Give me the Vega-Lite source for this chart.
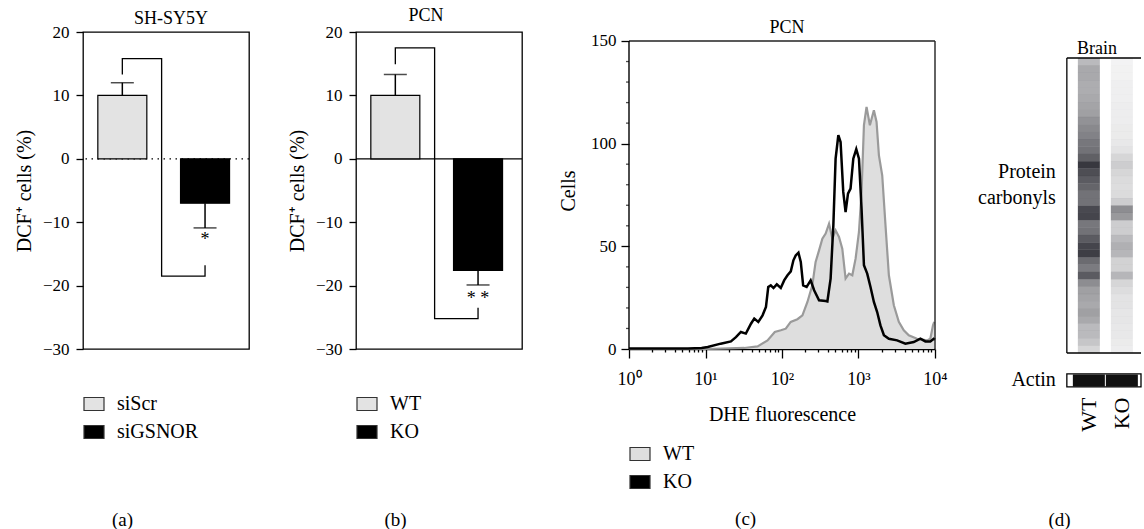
{
  "$schema": "https://vega.github.io/schema/vega-lite/v6.json",
  "padding": {"left": 13, "top": 6, "right": 0, "bottom": 0},
  "spacing": 107,
  "bounds": "flush",
  "config": {
    "font": "Liberation Serif",
    "view": {"stroke": "black", "strokeWidth": 1.3},
    "axis": {"domainColor": "black", "tickColor": "black", "labelColor": "black", "titleColor": "black", "labelFontSize": 17, "titleFontSize": 20, "titleFontWeight": "normal", "grid": false, "labelFont": "Liberation Serif", "titleFont": "Liberation Serif", "tickWidth": 1.3, "domainWidth": 1.3, "labelOverlap": false, "labelFlush": false},
    "title": {"fontSize": 18, "fontWeight": "normal", "color": "black", "font": "Liberation Serif", "baseline": "alphabetic"},
    "text": {"font": "Liberation Serif", "color": "black"},
    "legend": {"labelFontSize": 20, "labelFont": "Liberation Serif", "labelColor": "black", "symbolType": "M-1,-0.65H1V0.65H-1Z", "symbolSize": 400, "symbolStrokeColor": "#333", "symbolStrokeWidth": 1.2, "rowPadding": 7, "labelOffset": 12, "orient": "none", "symbolOpacity": 1}
  },
  "resolve": {"scale": {"x": "independent", "y": "independent", "fill": "independent", "opacity": "independent"}, "legend": {"fill": "independent"}},
  "hconcat": [
    {
      "width": 166, "height": 317,
      "title": {"text": "SH-SY5Y", "offset": -5, "dx": 5},
      "layer": [
        {"data": {"values": [{}]}, "mark": {"type": "rule", "color": "black", "strokeDash": [1.5, 4.5], "strokeWidth": 1.3}, "encoding": {"y": {"datum": 0, "type": "quantitative", "scale": {"domain": [-30, 20], "nice": false}}}},
        {
          "data": {"values": [{"g": 1, "grp": "siScr", "v": 10, "e": 12}, {"g": 2, "grp": "siGSNOR", "v": -7, "e": -10.9}]},
          "layer": [
            {"mark": {"type": "bar", "orient": "vertical", "width": 49, "stroke": "black", "strokeWidth": 1.2},
             "encoding": {
               "x": {"field": "g", "type": "quantitative", "scale": {"domain": [0.585, 2.471], "nice": false, "zero": false}, "axis": {"labels": false, "ticks": false, "domain": false, "title": "(a)", "titleX": 39, "titleY": 170, "titleBaseline": "middle", "titleAlign": "center", "titleFontSize": 19}},
               "y": {"field": "v", "type": "quantitative", "scale": {"domain": [-30, 20], "nice": false}, "axis": {"values": [-30, -20, -10, 0, 10, 20], "tickSize": 7, "labelPadding": 7, "title": "DCF⁺ cells (%)", "titlePadding": 8, "domain": false}},
               "fill": {"field": "grp", "type": "nominal", "scale": {"domain": ["siScr", "siGSNOR"], "range": ["#e3e3e3", "#000000"]}, "legend": {"title": null, "legendX": 0, "legendY": 361}}
             }},
            {"mark": {"type": "rule", "color": "black", "strokeWidth": 1.5}, "encoding": {"x": {"field": "g", "type": "quantitative"}, "y": {"field": "v", "type": "quantitative"}, "y2": {"field": "e"}}},
            {"mark": {"type": "tick", "orient": "horizontal", "color": "black", "size": 23, "thickness": 1.5}, "encoding": {"x": {"field": "g", "type": "quantitative"}, "y": {"field": "e", "type": "quantitative"}}}
          ]
        },
        {"data": {"values": [{"o": 1, "x": 1, "y": 13.3}, {"o": 2, "x": 1, "y": 15.8}, {"o": 3, "x": 1.475, "y": 15.8}, {"o": 4, "x": 1.475, "y": -18.5}, {"o": 5, "x": 2, "y": -18.5}, {"o": 6, "x": 2, "y": -16.8}]},
         "mark": {"type": "line", "color": "black", "strokeWidth": 1.3},
         "encoding": {"x": {"field": "x", "type": "quantitative"}, "y": {"field": "y", "type": "quantitative"}, "order": {"field": "o", "type": "quantitative"}}},
        {"data": {"values": [{"x": 2, "y": -11.4, "t": "*"}]},
         "mark": {"type": "text", "baseline": "top", "fontSize": 18},
         "encoding": {"x": {"field": "x", "type": "quantitative"}, "y": {"field": "y", "type": "quantitative"}, "text": {"field": "t"}}}
      ]
    },
    {
      "width": 166, "height": 317,
      "title": {"text": "PCN", "offset": -2, "dx": -13},
      "layer": [
        {"data": {"values": [{}]}, "mark": {"type": "rule", "color": "black", "strokeWidth": 1.3}, "encoding": {"y": {"datum": 0, "type": "quantitative", "scale": {"domain": [-30, 20], "nice": false}}}},
        {
          "data": {"values": [{"g": 1, "grp": "WT", "v": 10, "e": 13.3}, {"g": 2, "grp": "KO", "v": -17.6, "e": -19.9}]},
          "layer": [
            {"mark": {"type": "bar", "orient": "vertical", "width": 49, "stroke": "black", "strokeWidth": 1.2},
             "encoding": {
               "x": {"field": "g", "type": "quantitative", "scale": {"domain": [0.585, 2.471], "nice": false, "zero": false}, "axis": {"labels": false, "ticks": false, "domain": false, "title": "(b)", "titleX": 39, "titleY": 170, "titleBaseline": "middle", "titleAlign": "center", "titleFontSize": 19}},
               "y": {"field": "v", "type": "quantitative", "scale": {"domain": [-30, 20], "nice": false}, "axis": {"values": [-30, -20, -10, 0, 10, 20], "tickSize": 7, "labelPadding": 7, "title": "DCF⁺ cells (%)", "titlePadding": 8, "domain": false}},
               "fill": {"field": "grp", "type": "nominal", "scale": {"domain": ["WT", "KO"], "range": ["#e3e3e3", "#000000"]}, "legend": {"title": null, "legendX": 0, "legendY": 361}}
             }},
            {"mark": {"type": "rule", "color": "black", "strokeWidth": 1.5}, "encoding": {"x": {"field": "g", "type": "quantitative"}, "y": {"field": "v", "type": "quantitative"}, "y2": {"field": "e"}}},
            {"mark": {"type": "tick", "orient": "horizontal", "color": "black", "size": 23, "thickness": 1.5}, "encoding": {"x": {"field": "g", "type": "quantitative"}, "y": {"field": "e", "type": "quantitative"}}}
          ]
        },
        {"data": {"values": [{"o": 1, "x": 1, "y": 14.9}, {"o": 2, "x": 1, "y": 17.5}, {"o": 3, "x": 1.475, "y": 17.5}, {"o": 4, "x": 1.475, "y": -25.2}, {"o": 5, "x": 2, "y": -25.2}, {"o": 6, "x": 2, "y": -23.5}]},
         "mark": {"type": "line", "color": "black", "strokeWidth": 1.3},
         "encoding": {"x": {"field": "x", "type": "quantitative"}, "y": {"field": "y", "type": "quantitative"}, "order": {"field": "o", "type": "quantitative"}}},
        {"data": {"values": [{"x": 2, "y": -20.7, "t": "* *"}]},
         "mark": {"type": "text", "baseline": "top", "fontSize": 18},
         "encoding": {"x": {"field": "x", "type": "quantitative"}, "y": {"field": "y", "type": "quantitative"}, "text": {"field": "t"}}}
      ]
    },
    {
      "width": 306, "height": 317,
      "view": {"stroke": null},
      "title": {"text": "PCN", "offset": -5, "dx": 5},
      "layer": [
        {
          "data": {"values": [
            {"s":"KO","f":1,"c":0.3},{"s":"KO","f":3.16,"c":0.3},{"s":"KO","f":5.9,"c":0.2},{"s":"KO","f":8.9,"c":0.5},{"s":"KO","f":10.7,"c":1},{"s":"KO","f":15.8,"c":2.6},{"s":"KO","f":21.5,"c":3.7},{"s":"KO","f":25,"c":5.8},{"s":"KO","f":29,"c":8.3},{"s":"KO","f":33.7,"c":7.5},{"s":"KO","f":39.3,"c":12.3},{"s":"KO","f":43.4,"c":14.8},{"s":"KO","f":49,"c":13.2},{"s":"KO","f":55.7,"c":16.4},{"s":"KO","f":61.7,"c":20.5},{"s":"KO","f":66.1,"c":30.2},{"s":"KO","f":71.4,"c":31},{"s":"KO","f":77.4,"c":29.7},{"s":"KO","f":85.5,"c":31.5},{"s":"KO","f":96.4,"c":29.7},{"s":"KO","f":106.7,"c":33.4},{"s":"KO","f":118,"c":35.9},{"s":"KO","f":130.3,"c":37.8},{"s":"KO","f":141,"c":43.2},{"s":"KO","f":151,"c":45.6},{"s":"KO","f":164,"c":46.9},{"s":"KO","f":176,"c":42.4},{"s":"KO","f":189,"c":31},{"s":"KO","f":210,"c":30.2},{"s":"KO","f":237,"c":33.4},{"s":"KO","f":263,"c":28.6},{"s":"KO","f":305,"c":23.7},{"s":"KO","f":372,"c":23.4},{"s":"KO","f":392,"c":23.2},{"s":"KO","f":432,"c":34.3},{"s":"KO","f":469,"c":60.2},{"s":"KO","f":502,"c":92.7},{"s":"KO","f":545,"c":104.1},{"s":"KO","f":583,"c":100.8},{"s":"KO","f":632,"c":76.5},{"s":"KO","f":678,"c":66.7},{"s":"KO","f":729,"c":75.7},{"s":"KO","f":787,"c":78.1},{"s":"KO","f":855,"c":92.7},{"s":"KO","f":935,"c":97.3},{"s":"KO","f":1014,"c":92.7},{"s":"KO","f":1096,"c":68.3},{"s":"KO","f":1178,"c":40.8},{"s":"KO","f":1300,"c":36.7},{"s":"KO","f":1435,"c":30.2},{"s":"KO","f":1589,"c":22.9},{"s":"KO","f":1754,"c":18},{"s":"KO","f":1936,"c":11.5},{"s":"KO","f":2148,"c":6.7},{"s":"KO","f":2495,"c":5},{"s":"KO","f":3199,"c":4.2},{"s":"KO","f":4102,"c":2.6},{"s":"KO","f":5272,"c":3.4},{"s":"KO","f":6442,"c":5},{"s":"KO","f":7482,"c":3.7},{"s":"KO","f":8690,"c":3.7},{"s":"KO","f":9616,"c":5},{"s":"KO","f":10000,"c":4.5},
            {"s":"WT","f":1,"c":0},{"s":"WT","f":10,"c":0},{"s":"WT","f":32.1,"c":0.5},{"s":"WT","f":48,"c":1.3},{"s":"WT","f":64.7,"c":4.2},{"s":"WT","f":80.5,"c":8.3},{"s":"WT","f":96.6,"c":9.1},{"s":"WT","f":112,"c":9.9},{"s":"WT","f":130,"c":13.2},{"s":"WT","f":159,"c":14.5},{"s":"WT","f":185,"c":16.4},{"s":"WT","f":215,"c":22.9},{"s":"WT","f":249,"c":31},{"s":"WT","f":275,"c":42.4},{"s":"WT","f":305,"c":48},{"s":"WT","f":337,"c":53.7},{"s":"WT","f":372,"c":56.2},{"s":"WT","f":412,"c":61},{"s":"WT","f":455,"c":53.7},{"s":"WT","f":502,"c":57.8},{"s":"WT","f":556,"c":54.6},{"s":"WT","f":614,"c":48.9},{"s":"WT","f":678,"c":34.3},{"s":"WT","f":752,"c":36.7},{"s":"WT","f":830,"c":35.9},{"s":"WT","f":916,"c":44},{"s":"WT","f":1014,"c":57},{"s":"WT","f":1096,"c":76.5},{"s":"WT","f":1178,"c":109},{"s":"WT","f":1274,"c":117.9},{"s":"WT","f":1409,"c":109},{"s":"WT","f":1589,"c":116.3},{"s":"WT","f":1722,"c":110.6},{"s":"WT","f":1849,"c":94.3},{"s":"WT","f":2042,"c":84.6},{"s":"WT","f":2254,"c":60.2},{"s":"WT","f":2495,"c":35.9},{"s":"WT","f":2897,"c":21.3},{"s":"WT","f":3365,"c":13.2},{"s":"WT","f":3908,"c":9.1},{"s":"WT","f":4539,"c":6.7},{"s":"WT","f":5821,"c":5},{"s":"WT","f":7870,"c":4.2},{"s":"WT","f":8690,"c":5},{"s":"WT","f":9419,"c":11.5},{"s":"WT","f":9772,"c":13.2}
          ]},
          "layer": [
            {"transform": [{"filter": "datum.s === 'WT'"}],
             "mark": {"type": "area"},
             "encoding": {
               "x": {"field": "f", "type": "quantitative", "scale": {"type": "log", "domain": [1, 10000], "nice": false},
                     "axis": {"values": [1,2,3,4,5,6,7,8,9,10,20,30,40,50,60,70,80,90,100,200,300,400,500,600,700,800,900,1000,2000,3000,4000,5000,6000,7000,8000,9000,10000],
                              "labelExpr": "datum.value === 1 ? '10⁰' : datum.value === 10 ? '10¹' : datum.value === 100 ? '10²' : datum.value === 1000 ? '10³' : datum.value === 10000 ? '10⁴' : ''",
                              "labelOverlap": false, "labelFlush": false,
                              "tickSize": {"condition": {"test": "indexof([1,10,100,1000,10000], datum.value) >= 0", "value": 9}, "value": 3},
                              "labelPadding": 12, "labelFontSize": 18, "title": "DHE fluorescence", "titlePadding": 16}},
               "y": {"field": "c", "type": "quantitative", "scale": {"domain": [0, 154.38], "nice": false},
                     "axis": {"values": [0, 50, 100, 150], "tickSize": 8, "labelPadding": 5, "domain": false, "title": "Cells", "titlePadding": 12}},
               "fill": {"field": "s", "type": "nominal", "scale": {"domain": ["WT", "KO"], "range": ["#dedede", "#000000"]}, "legend": {"title": null, "legendX": 0, "legendY": 411}}
             }},
            {"transform": [{"filter": "datum.s === 'WT'"}],
             "mark": {"type": "line", "color": "#9a9a9a", "strokeWidth": 2.2},
             "encoding": {"x": {"field": "f", "type": "quantitative"}, "y": {"field": "c", "type": "quantitative"}}},
            {"transform": [{"filter": "datum.s === 'KO'"}],
             "mark": {"type": "line", "color": "#000000", "strokeWidth": 2.5},
             "encoding": {"x": {"field": "f", "type": "quantitative"}, "y": {"field": "c", "type": "quantitative"}}}
          ]
        },
        {"data": {"values": [{"t": 10}, {"t": 20}, {"t": 30}, {"t": 40}, {"t": 60}, {"t": 70}, {"t": 80}, {"t": 90}, {"t": 110}, {"t": 120}, {"t": 130}, {"t": 140}]},
         "mark": {"type": "tick", "orient": "horizontal", "color": "black", "size": 3, "thickness": 1.3, "xOffset": -1.5},
         "encoding": {"x": {"datum": 1, "type": "quantitative"}, "y": {"field": "t", "type": "quantitative"}}},
        {"data": {"values": [{}]}, "mark": {"type": "rule", "color": "#222", "strokeWidth": 1.4}, "encoding": {"y": {"datum": 150, "type": "quantitative"}}},
        {"data": {"values": [{}]}, "mark": {"type": "rule", "color": "#222", "strokeWidth": 1.4}, "encoding": {"x": {"datum": 10000, "type": "quantitative"}, "y": {"datum": 0, "type": "quantitative"}, "y2": {"datum": 150}}},
        {"data": {"values": [{}]}, "mark": {"type": "rule", "color": "#000", "strokeWidth": 1.4}, "encoding": {"x": {"datum": 1, "type": "quantitative"}, "y": {"datum": 0, "type": "quantitative"}, "y2": {"datum": 150}}},
        {"data": {"values": [{}]}, "mark": {"type": "text", "text": "(c)", "fontSize": 19, "baseline": "middle"}, "encoding": {"x": {"datum": 33.46, "type": "quantitative"}, "y": {"datum": -82.8, "type": "quantitative"}}}
      ]
    },
    {
      "width": 99, "height": 317,
      "view": {"stroke": null},
      "layer": [
        {
          "data": {"values": [
            {"lane":1,"m":1.25,"v":0.30},{"lane":1,"m":3.75,"v":0.38},{"lane":1,"m":6.25,"v":0.38},{"lane":1,"m":8.75,"v":0.36},{"lane":1,"m":11.25,"v":0.36},{"lane":1,"m":13.75,"v":0.38},{"lane":1,"m":16.25,"v":0.40},{"lane":1,"m":18.75,"v":0.42},{"lane":1,"m":21.25,"v":0.48},{"lane":1,"m":23.75,"v":0.52},{"lane":1,"m":26.25,"v":0.55},{"lane":1,"m":28.75,"v":0.60},{"lane":1,"m":31.25,"v":0.62},{"lane":1,"m":33.75,"v":0.70},{"lane":1,"m":36.25,"v":0.88},{"lane":1,"m":38.75,"v":0.78},{"lane":1,"m":41.25,"v":0.72},{"lane":1,"m":43.75,"v":0.68},{"lane":1,"m":46.25,"v":0.62},{"lane":1,"m":48.75,"v":0.62},{"lane":1,"m":51.25,"v":0.80},{"lane":1,"m":53.75,"v":0.82},{"lane":1,"m":56.25,"v":0.60},{"lane":1,"m":58.75,"v":0.62},{"lane":1,"m":61.25,"v":0.72},{"lane":1,"m":63.75,"v":0.82},{"lane":1,"m":66.25,"v":0.85},{"lane":1,"m":68.75,"v":0.65},{"lane":1,"m":71.25,"v":0.58},{"lane":1,"m":73.75,"v":0.72},{"lane":1,"m":76.25,"v":0.50},{"lane":1,"m":78.75,"v":0.42},{"lane":1,"m":81.25,"v":0.40},{"lane":1,"m":83.75,"v":0.38},{"lane":1,"m":86.25,"v":0.42},{"lane":1,"m":88.75,"v":0.38},{"lane":1,"m":91.25,"v":0.30},{"lane":1,"m":93.75,"v":0.30},{"lane":1,"m":96.25,"v":0.25},{"lane":1,"m":98.75,"v":0.18},
            {"lane":2,"m":1.25,"v":0.05},{"lane":2,"m":3.75,"v":0.06},{"lane":2,"m":6.25,"v":0.06},{"lane":2,"m":8.75,"v":0.07},{"lane":2,"m":11.25,"v":0.07},{"lane":2,"m":13.75,"v":0.07},{"lane":2,"m":16.25,"v":0.08},{"lane":2,"m":18.75,"v":0.08},{"lane":2,"m":21.25,"v":0.08},{"lane":2,"m":23.75,"v":0.09},{"lane":2,"m":26.25,"v":0.09},{"lane":2,"m":28.75,"v":0.10},{"lane":2,"m":31.25,"v":0.12},{"lane":2,"m":33.75,"v":0.18},{"lane":2,"m":36.25,"v":0.22},{"lane":2,"m":38.75,"v":0.18},{"lane":2,"m":41.25,"v":0.16},{"lane":2,"m":43.75,"v":0.15},{"lane":2,"m":46.25,"v":0.16},{"lane":2,"m":48.75,"v":0.22},{"lane":2,"m":51.25,"v":0.50},{"lane":2,"m":53.75,"v":0.45},{"lane":2,"m":56.25,"v":0.22},{"lane":2,"m":58.75,"v":0.22},{"lane":2,"m":61.25,"v":0.30},{"lane":2,"m":63.75,"v":0.35},{"lane":2,"m":66.25,"v":0.32},{"lane":2,"m":68.75,"v":0.20},{"lane":2,"m":71.25,"v":0.20},{"lane":2,"m":73.75,"v":0.32},{"lane":2,"m":76.25,"v":0.18},{"lane":2,"m":78.75,"v":0.15},{"lane":2,"m":81.25,"v":0.12},{"lane":2,"m":83.75,"v":0.12},{"lane":2,"m":86.25,"v":0.11},{"lane":2,"m":88.75,"v":0.11},{"lane":2,"m":91.25,"v":0.10},{"lane":2,"m":93.75,"v":0.10},{"lane":2,"m":96.25,"v":0.09},{"lane":2,"m":98.75,"v":0.08}
          ]},
          "mark": {"type": "rect", "width": 22, "height": 7.5, "color": "#1c1c24"},
          "encoding": {
            "x": {"field": "lane", "type": "quantitative", "scale": {"domain": [-0.42, 2.58], "nice": false, "zero": false},
                  "axis": {"values": [1, 2], "labelExpr": "datum.value === 1 ? 'WT' : 'KO'", "labelAngle": 270, "labelFontSize": 22, "domain": false, "ticks": false, "labelPadding": 48, "labelFlush": false, "labelOverlap": false, "title": "(d)", "titleX": 17, "titleY": 170, "titleBaseline": "middle", "titleAlign": "center", "titleFontSize": 19}},
            "y": {"field": "m", "type": "quantitative", "scale": {"domain": [-8.81, 98.64], "reverse": true, "nice": false, "zero": false}, "axis": null},
            "opacity": {"field": "v", "type": "quantitative", "scale": {"domain": [0, 1], "range": [0, 1]}, "legend": null}
          }
        },
        {"data": {"values": [{"lane": 1, "v": 0.95}, {"lane": 2, "v": 0.95}]},
         "mark": {"type": "rect", "width": 32, "height": 12, "color": "#111"},
         "encoding": {"x": {"field": "lane", "type": "quantitative"}, "y": {"datum": 109.3, "type": "quantitative"}}},
        {"data": {"values": [{}]}, "mark": {"type": "rect", "fillOpacity": 0, "stroke": "black", "strokeWidth": 1.3}, "encoding": {"x": {"datum": 0.333, "type": "quantitative"}, "x2": {"datum": 2.58}, "y": {"datum": 107.1, "type": "quantitative"}, "y2": {"datum": 111.5}}},
        {"data": {"values": [{}]}, "mark": {"type": "rule", "color": "black", "strokeWidth": 1.3}, "encoding": {"x": {"datum": 0.333, "type": "quantitative"}, "x2": {"datum": 2.58}, "y": {"datum": 0, "type": "quantitative"}}},
        {"data": {"values": [{}]}, "mark": {"type": "rule", "color": "black", "strokeWidth": 1.3}, "encoding": {"x": {"datum": 0.333, "type": "quantitative"}, "x2": {"datum": 2.58}, "y": {"datum": 100, "type": "quantitative"}}},
        {"data": {"values": [{}]}, "mark": {"type": "rule", "color": "black", "strokeWidth": 1.3}, "encoding": {"x": {"datum": 0.333, "type": "quantitative"}, "y": {"datum": 0, "type": "quantitative"}, "y2": {"datum": 100}}},
        {"data": {"values": [{}]}, "mark": {"type": "text", "text": "Brain", "fontSize": 18, "baseline": "middle"}, "encoding": {"x": {"datum": 1.247, "type": "quantitative"}, "y": {"datum": -3.2, "type": "quantitative"}}},
        {"data": {"values": [{}]}, "mark": {"type": "text", "text": "Protein", "fontSize": 20, "baseline": "middle", "align": "right"}, "encoding": {"x": {"datum": 0, "type": "quantitative"}, "y": {"datum": 38.6, "type": "quantitative"}}},
        {"data": {"values": [{}]}, "mark": {"type": "text", "text": "carbonyls", "fontSize": 20, "baseline": "middle", "align": "right"}, "encoding": {"x": {"datum": 0, "type": "quantitative"}, "y": {"datum": 47.5, "type": "quantitative"}}},
        {"data": {"values": [{}]}, "mark": {"type": "text", "text": "Actin", "fontSize": 20, "baseline": "middle", "align": "right"}, "encoding": {"x": {"datum": 0, "type": "quantitative"}, "y": {"datum": 109.2, "type": "quantitative"}}}
      ]
    }
  ]
}
